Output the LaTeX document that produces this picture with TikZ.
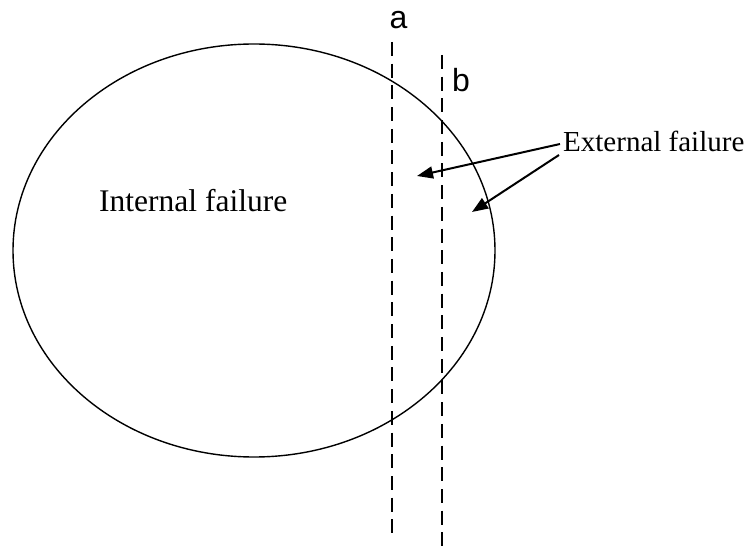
\documentclass[tikz,border=0pt]{standalone}
\usepackage{fontspec}
\setmainfont{Liberation Serif}
\setsansfont{Liberation Sans}
\usetikzlibrary{arrows.meta}
\begin{document}
\begin{tikzpicture}[x=1pt,y=-1pt,
  outline/.style={line width=1.4pt},
  cutline/.style={line width=1.8pt, dash pattern=on 14pt off 7.7pt},
  pointer/.style={line width=2pt, -{Triangle[length=16pt,width=12pt]}},
  serif/.style={inner sep=0pt, font=\fontsize{31.5}{36}\selectfont},
  serifsmall/.style={inner sep=0pt, font=\fontsize{29}{34}\selectfont},
  sanslabel/.style={inner sep=0pt, font=\sffamily\fontsize{32}{36}\selectfont}]
\useasboundingbox[fill=white] (0,0) rectangle (748,548);
% ellipse
\draw[outline] (254,250.5) ellipse [x radius=241pt, y radius=206.5pt];
% cut lines
\coordinate (atop) at (392,42);
\coordinate (abot) at (392,540);
\coordinate (btop) at (442,55);
\coordinate (bbot) at (442,548);
\draw[cutline] (atop) -- (abot);
\draw[cutline] (btop) -- (bbot);
\node[sanslabel, anchor=base] (la) at (398.5,28.3) {a};
\node[sanslabel, anchor=base] (lb) at (461,91.7) {b};
% labels
\node[serif, anchor=base west] (int) at (99,212) {Internal failure};
\node[serifsmall, anchor=base west] (ext) at (563,152) {External failure};
% arrows
\coordinate (s1) at (560,144);
\coordinate (s2) at (559,155);
\coordinate (t1) at (417,176);
\coordinate (t2) at (472,212);
\draw[pointer] (s1) -- (t1);
\draw[pointer] (s2) -- (t2);
\end{tikzpicture}
\end{document}
